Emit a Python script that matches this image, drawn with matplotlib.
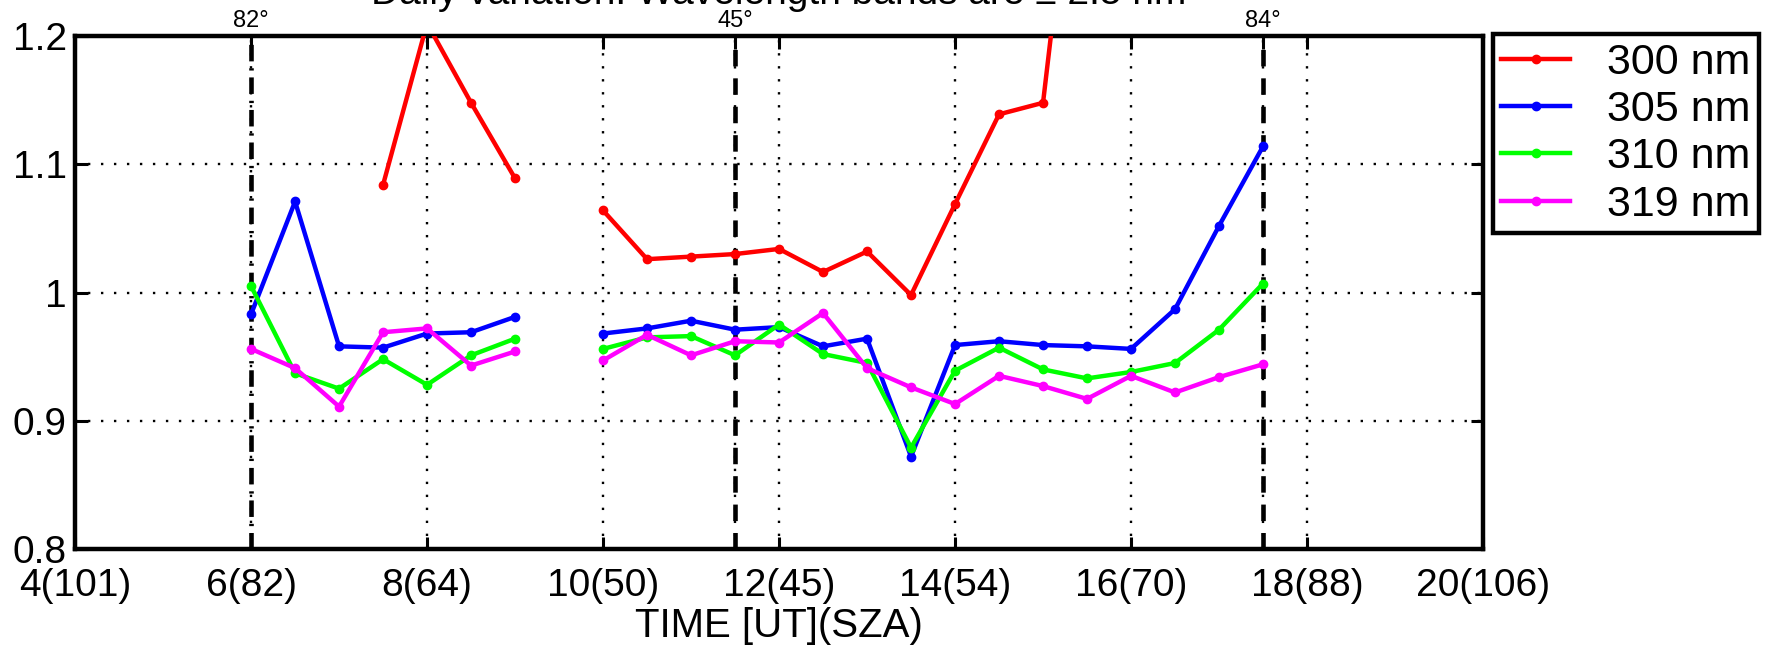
import numpy as np
import matplotlib.pyplot as plt

plt.rcParams['font.family'] = ['Liberation Sans', 'DejaVu Sans']

# measurement times (UT, hours)
times = [6.0, 6.5, 7.0, 7.5, 8.0, 8.5, 9.0, 9.5, 10.0, 10.5, 11.0, 11.5, 12.0,
         12.5, 13.0, 13.5, 14.0, 14.5, 15.0, 15.5, 16.0, 16.5, 17.0, 17.5]

nan = np.nan
r300 = [nan, nan, nan, 1.084, 1.21, 1.148, 1.089, nan, 1.064, 1.026, 1.028, 1.030,
        1.034, 1.016, 1.032, 0.998, 1.069, 1.139, 1.148, 1.44, nan, nan, nan, nan]
r305 = [0.983, 1.071, 0.958, 0.957, 0.968, 0.969, 0.981, nan, 0.968, 0.972, 0.978,
        0.971, 0.973, 0.958, 0.964, 0.872, 0.959, 0.962, 0.959, 0.958, 0.956, 0.987,
        1.052, 1.114]
r310 = [1.005, 0.937, 0.925, 0.948, 0.928, 0.951, 0.964, nan, 0.956, 0.965, 0.966,
        0.951, 0.975, 0.952, 0.945, 0.879, 0.939, 0.957, 0.940, 0.933, 0.938, 0.945,
        0.971, 1.007]
r319 = [0.956, 0.941, 0.911, 0.969, 0.972, 0.943, 0.954, nan, 0.947, 0.967, 0.951,
        0.962, 0.961, 0.984, 0.941, 0.926, 0.913, 0.935, 0.927, 0.917, 0.935, 0.922,
        0.934, 0.944]

series = [("300 nm", r300, "#ff0000"), ("305 nm", r305, "#0000ff"),
          ("310 nm", r310, "#00ff00"), ("319 nm", r319, "#ff00ff")]

xticks = [4, 6, 8, 10, 11.5, 12, 14, 16, 17.5, 18, 20]
xlabels = ["4(101)", "6(82)", "8(64)", "10(50)", "", "12(45)", "14(54)",
           "16(70)", "", "18(88)", "20(106)"]
yticks = [0.8, 0.9, 1.0, 1.1, 1.2]
ylabels = ["0.8", "0.9", "1", "1.1", "1.2"]

# solar zenith angle markers: (time, label, style)
sza_lines = [(6.0, "82°", (0, (3.6, 1.5, 0.5, 1.5))),
             (11.5, "45°", (0, (3.6, 2.6))),
             (17.5, "84°", (0, (3.6, 2.6)))]

fig = plt.figure(figsize=(17.75, 6.45), dpi=100)
ax = fig.add_axes([0.0423, 0.149, 0.7932, 0.795])

for t, lab, ls in sza_lines:
    ax.axvline(t, color="black", lw=3.3, linestyle=ls, zorder=1)
    ax.text(t, 1.203, lab, ha="center", va="bottom", fontsize=17)

for name, vals, col in series:
    ax.plot(times, vals, color=col, lw=3.2, marker="o", markersize=6,
            label=name, zorder=3)

ax.set_xlim(4, 20)
ax.set_ylim(0.8, 1.2)
ax.set_xticks(xticks)
ax.set_xticklabels(xlabels, fontsize=28)
ax.set_yticks(yticks)
ax.set_yticklabels(ylabels, fontsize=28)
ax.tick_params(direction="in", length=9, width=2.2, top=True, right=True)
ax.tick_params(axis="x", pad=14)
ax.tick_params(axis="y", pad=6)
ax.grid(True, color="black", linestyle=(0, (1, 4.5)), lw=1.7)
for s in ax.spines.values():
    s.set_linewidth(3.2)

ax.set_xlabel("TIME [UT](SZA)", fontsize=29, labelpad=2)
ax.set_title("Daily variation. Wavelength bands are ± 2.5 nm", fontsize=28, pad=23)

leg = fig.legend(loc="upper left", bbox_to_anchor=(0.841, 0.947), fontsize=31,
                 handlelength=1.6, handletextpad=0.85, labelspacing=0.17,
                 borderaxespad=0, fancybox=False, edgecolor="black",
                 framealpha=1, borderpad=0.2)
leg.get_frame().set_linewidth(3.2)

fig.savefig("out.png", dpi=100)
